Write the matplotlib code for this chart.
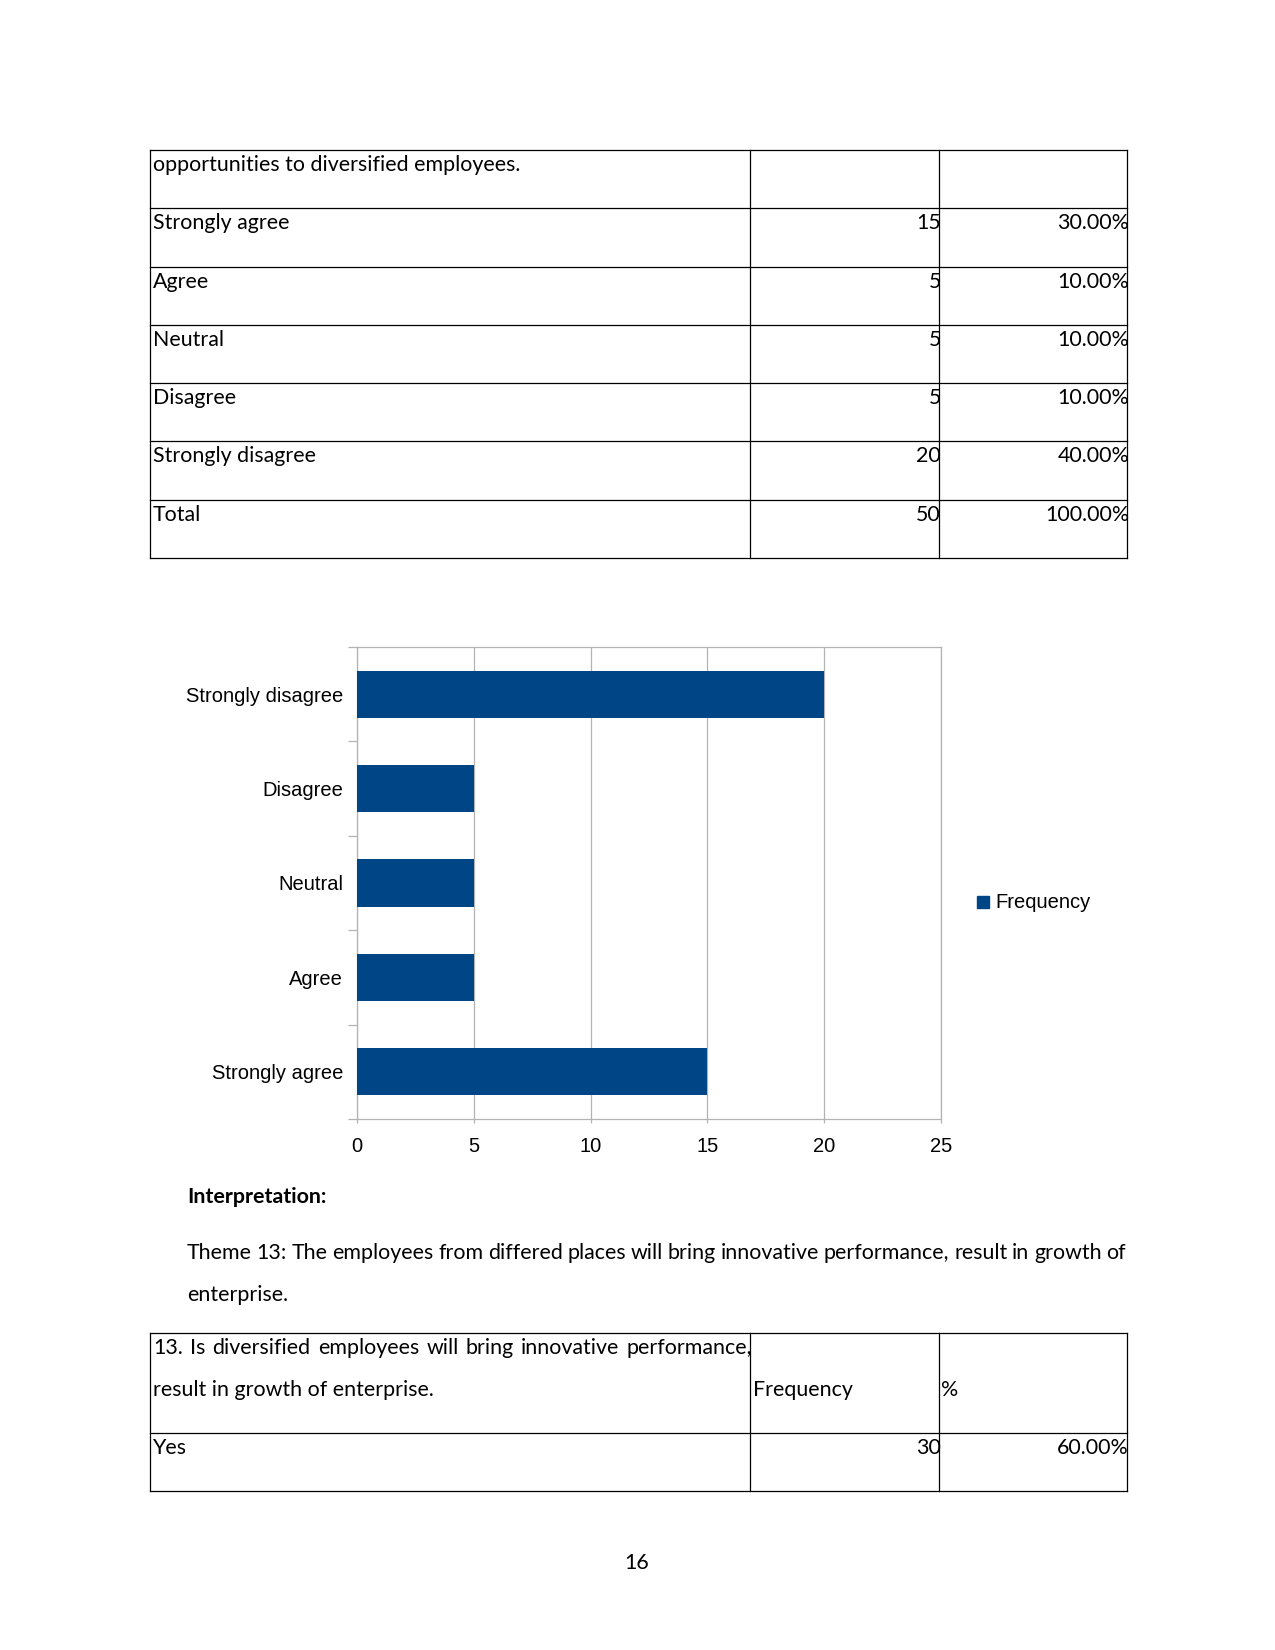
import matplotlib.pyplot as plt
import numpy as np

# Data
categories = ['Strongly agree', 'Agree', 'Neutral', 'Disagree', 'Strongly disagree']
frequency = [15, 5, 5, 5, 20]
percent = ['30.00%', '10.00%', '10.00%', '10.00%', '40.00%']
total_freq, total_pct = 50, '100.00%'

q13_yes_freq, q13_yes_pct = 30, '60.00%'

# Page layout (pixel coordinates on a 1275x1650 page)
W, H = 1275, 1650
fig = plt.figure(figsize=(W / 100, H / 100), dpi=100)
fig.patch.set_facecolor('white')

DOC_FONT = 'Lato'
DOC_SIZE = 15.4
CHART_FONT = 'Liberation Sans'


def fx(x):
    return x / W


def fy(y):
    return 1 - y / H


def hline(x0, x1, y, lw=0.9, color='black'):
    fig.add_artist(plt.Line2D([fx(x0), fx(x1)], [fy(y), fy(y)], lw=lw, color=color))


def vline(x, y0, y1, lw=0.9, color='black'):
    fig.add_artist(plt.Line2D([fx(x), fx(x)], [fy(y0), fy(y1)], lw=lw, color=color))


def text(x, y, s, ha='left', **kw):
    kw.setdefault('family', DOC_FONT)
    kw.setdefault('fontsize', DOC_SIZE)
    fig.text(fx(x), fy(y), s, ha=ha, va='center', **kw)


def justify(x0, x1, y, line, **kw):
    # spread the words of one line between x0 and x1
    kw.setdefault('family', DOC_FONT)
    kw.setdefault('fontsize', DOC_SIZE)
    renderer = fig.canvas.get_renderer()
    words = line.split()
    arts = [fig.text(0, 0, w, va='center', **kw) for w in words]
    widths = [a.get_window_extent(renderer).width for a in arts]
    gap = (x1 - x0 - sum(widths)) / (len(words) - 1)
    x = x0
    for a, w in zip(arts, widths):
        a.set_position((fx(x), fy(y)))
        x += w + gap


# Table 1
L, C1, C2, R = 150, 750, 939, 1127
rows_y = np.linspace(150, 558, 8)
for y in rows_y:
    hline(L, R, y)
for x in (L, C1, C2, R):
    vline(x, rows_y[0], rows_y[-1])

labels = ['opportunities to diversified employees.'] + categories + ['Total']
freqs = [''] + [str(f) for f in frequency] + [str(total_freq)]
pcts = [''] + percent + [total_pct]
for i, (lab, f, p) in enumerate(zip(labels, freqs, pcts)):
    y = rows_y[i] + 15
    text(L + 3, y, lab)
    text(C2 + 2, y, f, ha='right')
    text(R + 2, y, p, ha='right')

# Chart
ax = fig.add_axes([fx(357), fy(1119), (941 - 357) / W, (1119 - 647) / H])
ypos = np.arange(len(categories))
ax.barh(ypos, frequency, height=0.5, color='#004586', zorder=3)
ax.set_xlim(0, 25)
ax.set_ylim(-0.5, len(categories) - 0.5)
ax.set_xticks(np.arange(0, 26, 5))
ax.set_yticks(ypos)
ax.set_yticklabels(categories)
ax.set_yticks(np.arange(-0.5, len(categories), 1), minor=True)
ax.grid(axis='x', color='#b3b3b3', lw=0.9, zorder=0)
for s in ax.spines.values():
    s.set_color('#b3b3b3')
    s.set_linewidth(0.9)
ax.tick_params(axis='y', which='major', length=0, pad=10)
ax.tick_params(axis='y', which='minor', length=6.5, color='#b3b3b3', width=0.9)
ax.tick_params(axis='x', which='major', length=3, color='#b3b3b3', width=0.9, pad=10)
for t in ax.get_xticklabels() + ax.get_yticklabels():
    t.set_family(CHART_FONT)
    t.set_fontsize(14.5)

# Legend
fig.add_artist(plt.Rectangle((fx(977), fy(908)), 12 / W, 12 / H, color='#004586'))
text(995, 902, 'Frequency', family=CHART_FONT, fontsize=14.5)

# Interpretation text
text(187, 1197, 'Interpretation:', weight='bold')
justify(187, 1126, 1253, 'Theme 13: The employees from differed places will bring innovative performance, result in growth of')
text(187, 1295, 'enterprise.')

# Table 2
t2_y = [1333, 1433, 1491]
for y in t2_y:
    hline(L, R, y)
for x in (L, C1, C2, R):
    vline(x, t2_y[0], t2_y[-1])
justify(L + 3, C1 + 2, 1348, '13. Is diversified employees will bring innovative performance,')
text(L + 3, 1390, 'result in growth of enterprise.')
text(C1 + 3, 1390, 'Frequency')
text(C2 + 2, 1390, '%')
text(L + 3, 1448, 'Yes')
text(C2 + 2, 1448, str(q13_yes_freq), ha='right')
text(R + 2, 1448, q13_yes_pct, ha='right')

# Page number
text(637, 1563, '16', ha='center')

fig.savefig('out.png', dpi=100)
